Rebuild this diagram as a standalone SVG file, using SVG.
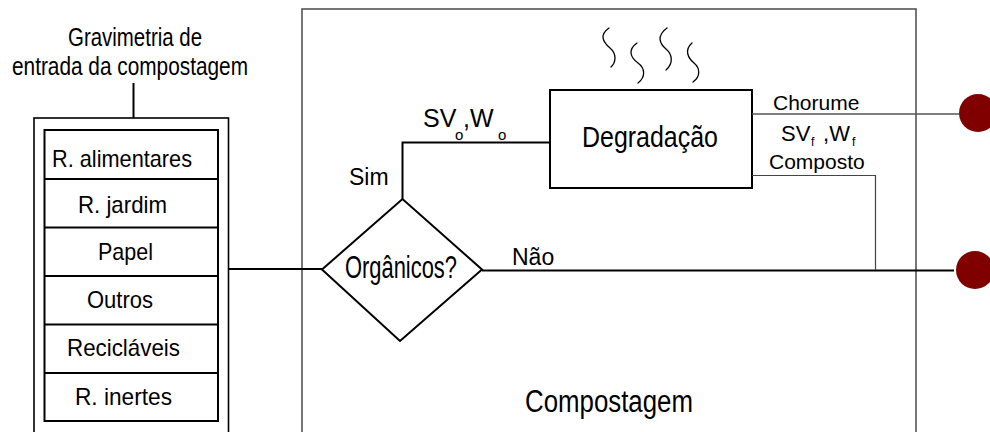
<svg xmlns="http://www.w3.org/2000/svg" width="990" height="432" viewBox="0 0 990 432">
<style>
text{font-family:"Liberation Sans",Arial,sans-serif;fill:#000}
.blk{fill:none;stroke:#000;stroke-width:2}
.gry{fill:none;stroke:#555;stroke-width:1.6}
.thin{fill:none;stroke:#444;stroke-width:1.2}
.out{fill:#800000;stroke:none}
.steam{fill:none;stroke:#000;stroke-width:1.3;stroke-linecap:round}
</style>
<rect width="990" height="432" fill="#fff"/>
<g id="compostagem">
<rect x="302" y="9" width="614" height="440" class="gry"/>
<text x="525" y="412" font-size="31" textLength="168" lengthAdjust="spacingAndGlyphs">Compostagem</text>
</g>
<g id="entrada">
<text x="68" y="46" font-size="26" textLength="134" lengthAdjust="spacingAndGlyphs">Gravimetria de</text>
<text x="12" y="75" font-size="26" textLength="236" lengthAdjust="spacingAndGlyphs">entrada da compostagem</text>
<rect x="34" y="118" width="194.5" height="330" fill="none" stroke="#000" stroke-width="1.6"/>
<rect x="44.5" y="130" width="173.5" height="291" class="blk"/>
<path d="M44.5 179H218M44.5 227.5H218M44.5 276H218M44.5 324.5H218M44.5 373H218" class="blk"/>
<text x="52" y="167" font-size="24" textLength="140" lengthAdjust="spacingAndGlyphs">R. alimentares</text>
<text x="78" y="213" font-size="24" textLength="89" lengthAdjust="spacingAndGlyphs">R. jardim</text>
<text x="98" y="260" font-size="24" textLength="55" lengthAdjust="spacingAndGlyphs">Papel</text>
<text x="87" y="308" font-size="24" textLength="66" lengthAdjust="spacingAndGlyphs">Outros</text>
<text x="67" y="356" font-size="24" textLength="113" lengthAdjust="spacingAndGlyphs">Recicláveis</text>
<text x="75" y="405" font-size="24" textLength="97" lengthAdjust="spacingAndGlyphs">R. inertes</text>
</g>
<g id="organicos">
<polygon points="322,269.5 402.5,199 482,269.5 400,341" class="blk"/>
<text x="345" y="278" font-size="31" textLength="112" lengthAdjust="spacingAndGlyphs">Orgânicos?</text>
</g>
<g id="degradacao">
<rect x="550" y="90" width="202" height="98" class="blk"/>
<text x="582" y="147" font-size="30" textLength="136" lengthAdjust="spacingAndGlyphs">Degradação</text>
<path class="steam" d="M609 28C599 35 603 42 610 48S616 62 611 67"/>
<path class="steam" d="M637 43C627 50 631 58 638 63S646 77 638 83"/>
<path class="steam" d="M667 28C656 36 660 44 666 49S674 63 666 70"/>
<path class="steam" d="M692 43C684 50 688 58 694 63S701 76 693 82"/>
</g>
<g id="saida-chorume">
<circle cx="978" cy="113" r="19" class="out"/>
</g>
<g id="saida-rejeito">
<circle cx="975" cy="270" r="19" class="out"/>
</g>
<g id="connectors">
<path d="M133.5 83V118" class="blk"/>
<path d="M228.5 269H322" class="blk"/>
<path d="M402.5 199V142.5H550" class="blk"/>
<path d="M482 270.5H954" class="blk"/>
<path d="M752 114H959" class="gry"/>
<path d="M752 175.5H875.5V270" class="thin"/>
</g>
<g id="labels">
<text x="349" y="185" font-size="23">Sim</text>
<text x="512" y="265" font-size="23">Não</text>
<text x="423" y="127" font-size="25">SV<tspan x="455" y="140" font-size="15">o</tspan><tspan x="463" y="127">,W</tspan><tspan x="498" y="140" font-size="15">o</tspan></text>
<text x="773" y="110" font-size="21">Chorume</text>
<text x="781" y="141" font-size="22">SV<tspan x="811" y="146" font-size="12">f</tspan><tspan x="817" y="141"> ,W</tspan><tspan x="852" y="146" font-size="12">f</tspan></text>
<text x="769" y="169" font-size="21">Composto</text>
</g>
</svg>
